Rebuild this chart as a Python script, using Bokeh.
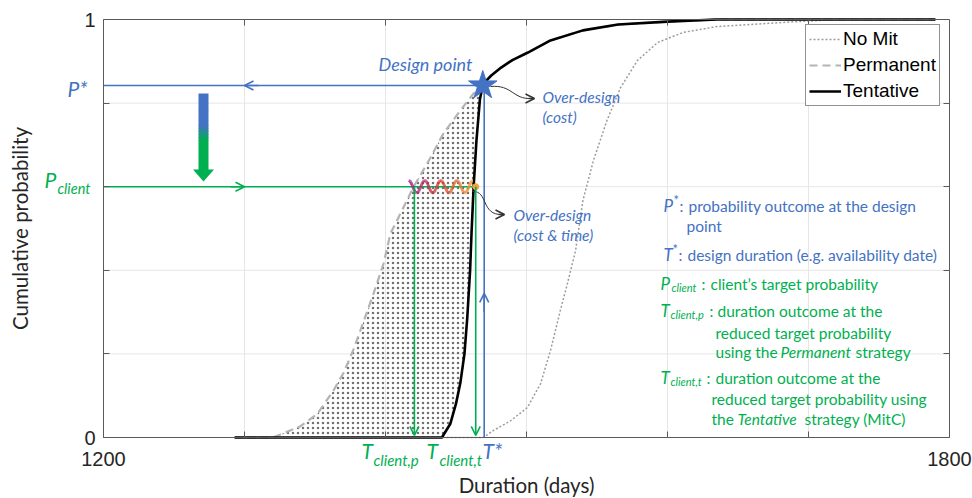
import numpy as np
from bokeh.plotting import figure
from bokeh.models import (Range1d, FixedTicker, LinearAxis, Label, Arrow, OpenHead,
                          Legend, LegendItem)
from bokeh.embed import file_html
from bokeh.resources import INLINE

# ---------------- data ----------------
tent_x = [1293, 1440, 1446, 1450, 1453, 1456, 1458, 1460, 1461, 1462.5, 1464.5, 1467, 1469,
          1471, 1475, 1482, 1490, 1501, 1517, 1540, 1565, 1600, 1635, 1790]
tent_y = [0, 0, 0.033, 0.081, 0.129, 0.2, 0.287, 0.4, 0.488, 0.6, 0.71, 0.81, 0.842,
          0.852, 0.866, 0.885, 0.903, 0.921, 0.95, 0.974, 0.988, 0.995, 1.0, 1.0]

perm_x = [1293, 1320, 1332.6, 1339.7, 1351.8, 1363, 1370, 1377, 1384, 1391.5, 1398.6, 1403.5,
          1410.6, 1420, 1432, 1441, 1453, 1462.5, 1469,
          1471, 1475, 1482, 1490, 1501, 1517, 1540, 1565, 1600, 1635, 1790]
perm_y = [0, 0, 0.017, 0.027, 0.057, 0.112, 0.153, 0.208, 0.273, 0.344, 0.416, 0.488,
          0.536, 0.6, 0.67, 0.727, 0.782, 0.823, 0.842,
          0.852, 0.866, 0.885, 0.903, 0.921, 0.95, 0.974, 0.988, 0.995, 1.0, 1.0]

nomit_x = [1293, 1469.5, 1476.6, 1488.7, 1500.7, 1510, 1517, 1524, 1529, 1534.8, 1540, 1547.5,
           1557, 1566.7, 1578.7, 1593, 1611, 1635, 1682, 1720, 1790]
nomit_y = [0, 0, 0.017, 0.04, 0.072, 0.129, 0.208, 0.304, 0.368, 0.447, 0.567, 0.663,
           0.758, 0.837, 0.902, 0.945, 0.969, 0.983, 0.993, 1.0, 1.0]

P_star = 0.842
P_client = 0.6
T_star = 1470
T_client_p = 1420.5
T_client_t = 1464

X_MIN, X_MAX = 1200, 1800
Y_MIN, Y_MAX = 0, 1
x_label_ticks = [1200, 1800]
x_minor_ticks = [1300, 1400, 1500, 1600, 1700]
y_label_ticks = [0, 1]
y_minor_ticks = [0.2, 0.4, 0.6, 0.8]
x_grid = [1300, 1400, 1500, 1600, 1700]
y_grid = [0.2, 0.4, 0.6, 0.8]

BLUE = "#4472C4"
GREEN = "#00B050"
FONT = "Lato"

# pixel geometry of the axes box inside the 972x498 canvas
BOX_L, BOX_R, BOX_T, BOX_B = 103, 949, 19, 437
W, H = 972, 498


def X(px):
    return X_MIN + (px - BOX_L) * (X_MAX - X_MIN) / (BOX_R - BOX_L)


def Y(py):
    return Y_MIN + (BOX_B - py) * (Y_MAX - Y_MIN) / (BOX_B - BOX_T)


# ---------------- figure (frame = whole canvas, axes at fixed locations) ----------------
p = figure(width=W, height=H, x_range=Range1d(X(0), X(W)), y_range=Range1d(Y(H), Y(0)),
           output_backend="svg", toolbar_location=None,
           min_border_left=0, min_border_right=0, min_border_top=0, min_border_bottom=0)
p.title.visible = False
p.background_fill_color = "white"
p.border_fill_color = "white"
p.outline_line_color = None
p.xgrid.visible = False
p.ygrid.visible = False

AX = "#5a5a5a"


def style_axis(ax):
    ax.axis_line_color = AX
    ax.major_tick_line_color = AX
    ax.minor_tick_line_color = AX
    ax.major_tick_in = 6
    ax.major_tick_out = 0
    ax.minor_tick_in = 6
    ax.minor_tick_out = 0


xa = p.xaxis[0]
ya = p.yaxis[0]
for ax in (xa, ya):
    style_axis(ax)
    ax.major_label_text_font = "Liberation Sans"
    ax.major_label_text_font_size = "20px"
    ax.major_label_text_color = "#262626"
    ax.axis_label_text_font = FONT
    ax.axis_label_text_font_size = "20.5px"
    ax.axis_label_text_font_style = "normal"
    ax.axis_label_text_color = "#262626"

xa.ticker = FixedTicker(ticks=x_label_ticks, minor_ticks=x_minor_ticks)
xa.fixed_location = Y_MIN
xa.bounds = (X_MIN, X_MAX)
xa.major_label_standoff = 14
xa.axis_label = "Duration (days)"
xa.axis_label_standoff = 4
ya.ticker = FixedTicker(ticks=y_label_ticks, minor_ticks=y_minor_ticks)
ya.fixed_location = X_MIN
ya.bounds = (Y_MIN, Y_MAX)
ya.major_label_standoff = 8
ya.axis_label = "Cumulative probability"
ya.axis_label_standoff = 49

ax_top = LinearAxis(ticker=FixedTicker(ticks=[], minor_ticks=x_minor_ticks),
                    fixed_location=Y_MAX, bounds=(X_MIN, X_MAX))
style_axis(ax_top)
p.add_layout(ax_top, "above")
ax_right = LinearAxis(ticker=FixedTicker(ticks=[], minor_ticks=y_minor_ticks),
                      fixed_location=X_MAX, bounds=(Y_MIN, Y_MAX))
style_axis(ax_right)
p.add_layout(ax_right, "right")

# grid confined to the axes box
p.segment(x0=x_grid, y0=[Y_MIN] * len(x_grid), x1=x_grid, y1=[Y_MAX] * len(x_grid),
          line_color="#e6e6e6", line_width=1)
p.segment(x0=[X_MIN] * len(y_grid), y0=y_grid, x1=[X_MAX] * len(y_grid), y1=y_grid,
          line_color="#e6e6e6", line_width=1)


def txt(px, py, s, size, color, style="normal", align="left", baseline="middle",
        font=FONT, angle=0):
    p.add_layout(Label(x=X(px), y=Y(py), text=s, text_font=font,
                       text_font_size=f"{size}px", text_color=color,
                       text_font_style=style, text_align=align, text_baseline=baseline,
                       angle=angle))


# ---------------- hatched region between Permanent and Tentative ----------------
fill_x = [x for x, y in zip(perm_x, perm_y) if y <= P_star and x >= 1320]
fill_y = [y for x, y in zip(perm_x, perm_y) if y <= P_star and x >= 1320]
tx = [x for x, y in zip(tent_x, tent_y) if y <= P_star and x >= 1440]
ty = [y for x, y in zip(tent_x, tent_y) if y <= P_star and x >= 1440]
fill_x += tx[::-1]
fill_y += ty[::-1]
p.patch(fill_x, fill_y, fill_alpha=0, line_color=None,
        hatch_pattern="dot", hatch_color="#707070", hatch_scale=5, hatch_weight=0.5)

# ---------------- curves ----------------
r_nomit = p.line(nomit_x, nomit_y, line_color="#9c9c9c", line_width=1.5, line_dash="2 2")
r_perm = p.line(perm_x, perm_y, line_color="#b4b4b4", line_width=2.2, line_dash="8 5")
r_tent = p.line(tent_x, tent_y, line_color="black", line_width=2.6)

# ---------------- guide lines ----------------
p.segment(x0=[T_star], y0=[P_star], x1=[X_MIN], y1=[P_star], line_color=BLUE, line_width=1.6)
p.segment(x0=[T_star], y0=[0], x1=[T_star], y1=[P_star], line_color=BLUE, line_width=1.6)
p.segment(x0=[X_MIN], y0=[P_client], x1=[T_client_t], y1=[P_client], line_color=GREEN, line_width=1.6)


def head(x0, y0, x1, y1, color):
    p.add_layout(Arrow(end=OpenHead(size=9, line_color=color, line_width=1.6),
                       x_start=x0, y_start=y0, x_end=x1, y_end=y1,
                       line_color=color, line_width=1.6))


head(1310, P_star, 1300, P_star, BLUE)
head(1290, P_client, 1300, P_client, GREEN)
head(T_star, 0.30, T_star, 0.345, BLUE)
head(T_client_p, P_client, T_client_p, 0.005, GREEN)
head(T_client_t, P_client, T_client_t, 0.005, GREEN)

# wavy over-design line (decoration)
n = 200
wx = np.linspace(T_client_p - 4, T_client_t - 2, n)
wy = P_client + 0.015 * np.sin(np.linspace(0, 8 * np.pi, n) + np.pi / 2)
c0 = np.array([160, 30, 150])
c1 = np.array([216, 58, 44])
c2 = np.array([242, 162, 58])
cols = []
for i in range(n - 1):
    t = i / (n - 2)
    c = c0 + (c1 - c0) * (t / 0.5) if t < 0.5 else c1 + (c2 - c1) * ((t - 0.5) / 0.5)
    cols.append("#%02x%02x%02x" % tuple(int(v) for v in c))
p.multi_line(xs=[[wx[i], wx[i + 1]] for i in range(n - 1)],
             ys=[[wy[i], wy[i + 1]] for i in range(n - 1)],
             line_color=cols, line_width=2.8)
p.scatter([T_client_t], [P_client], size=6, color="#f2a23a")

# design point star
p.scatter([T_star - 1], [P_star], marker="star", size=30, color=BLUE, line_color=BLUE)

# curved connectors
p.bezier(x0=[X(490)], y0=[Y(86)], x1=[X(531)], y1=[Y(98)],
         cx0=[X(512)], cy0=[Y(84)], cx1=[X(512)], cy1=[Y(99)], line_color="#333333", line_width=1)
head(X(528), Y(98), X(534), Y(98), "#333333")
p.bezier(x0=[X(472)], y0=[Y(191)], x1=[X(502)], y1=[Y(214)],
         cx0=[X(488)], cy0=[Y(190)], cx1=[X(480)], cy1=[Y(215)], line_color="#333333", line_width=1)
head(X(498), Y(214), X(504), Y(214), "#333333")


# gradient arrow P* -> P_client
def hx(c):
    return "#%02x%02x%02x" % c


blue_rgb = (68, 114, 196)
green_rgb = (0, 176, 80)
steps = [93, 110, 125, 128, 131, 134, 137, 140, 170]
for i in range(len(steps) - 1):
    a, b = steps[i], steps[i + 1]
    mid = (a + b) / 2
    t = min(max((mid - 125) / 15, 0), 1)
    col = tuple(int(blue_rgb[k] + (green_rgb[k] - blue_rgb[k]) * t) for k in range(3))
    p.quad(left=[X(198)], right=[X(208)], top=[Y(a)], bottom=[Y(b + 0.5)],
           fill_color=hx(col), line_color=None)
p.patch([X(192.5), X(213.5), X(203)], [Y(169), Y(169), Y(181)], fill_color=hx(green_rgb), line_color=None)

# ---------------- legend ----------------
legend = Legend(items=[LegendItem(label="No Mit", renderers=[r_nomit]),
                       LegendItem(label="Permanent", renderers=[r_perm]),
                       LegendItem(label="Tentative", renderers=[r_tent])],
                location=(805, H - 106), label_text_font="Liberation Sans",
                label_text_font_size="19px", label_text_color="black",
                border_line_color="#262626", border_line_width=1,
                glyph_width=32, label_standoff=2, spacing=4, padding=3, margin=0,
                background_fill_alpha=1)
p.add_layout(legend)

# ---------------- texts ----------------
txt(378, 63, "Design point", 18, BLUE, "italic")
txt(542, 96, "Over-design", 15.5, BLUE, "italic")
txt(542, 116, "(cost)", 15.5, BLUE, "italic")
txt(513, 214, "Over-design", 15.5, BLUE, "italic")
txt(513, 234, "(cost & time)", 15.5, BLUE, "italic")

# left y-labels
txt(67, 88, "P*", 21, BLUE, "italic")
txt(44, 179, "P", 21, GREEN, "italic")
txt(57, 188, "client", 14.5, GREEN, "italic")

# bottom x-labels
txt(361, 450, "T", 21, GREEN, "italic")
txt(373, 459, "client,p", 15, GREEN, "italic")
txt(426, 450, "T", 21, GREEN, "italic")
txt(439, 459, "client,t", 15, GREEN, "italic")
txt(482, 450, "T*", 21, BLUE, "italic")

# explanatory block
S = 15.5
txt(663, 205, "P", 17, BLUE, "italic")
txt(673, 199, "*", 13, BLUE)
txt(679, 205, ":", S, BLUE)
txt(688, 205, "probability outcome at the design", S, BLUE)
txt(686, 225, "point", S, BLUE)
txt(663, 254, "T", 17, BLUE, "italic")
txt(672, 248, "*", 13, BLUE)
txt(678, 254, ":", S, BLUE)
txt(687, 254, "design duration (e.g. availability date)", S, BLUE)

txt(660, 283, "P", 17, GREEN, "italic")
txt(671, 287, "client", 11, GREEN, "italic")
txt(701, 283, ":", S, GREEN)
txt(710, 283, "client\u2019s target probability", S, GREEN)
txt(660, 310, "T", 17, GREEN, "italic")
txt(670, 314, "client,p", 11, GREEN, "italic")
txt(709, 310, ":", S, GREEN)
txt(717, 310, "duration outcome at the", S, GREEN)
txt(715, 332, "reduced target probability", S, GREEN)
txt(715, 351, "using the", S, GREEN)
txt(780, 351, "Permanent", S, GREEN, "italic")
txt(855, 351, "strategy", S, GREEN)
txt(660, 377, "T", 17, GREEN, "italic")
txt(670, 381, "client,t", 11, GREEN, "italic")
txt(706, 377, ":", S, GREEN)
txt(715, 377, "duration outcome at the", S, GREEN)
txt(711, 398, "reduced target probability using", S, GREEN)
txt(711, 418, "the", S, GREEN)
txt(737, 418, "Tentative", S, GREEN, "italic")
txt(804, 418, "strategy (MitC)", S, GREEN)

open("out.html", "w").write(file_html(p, INLINE))
